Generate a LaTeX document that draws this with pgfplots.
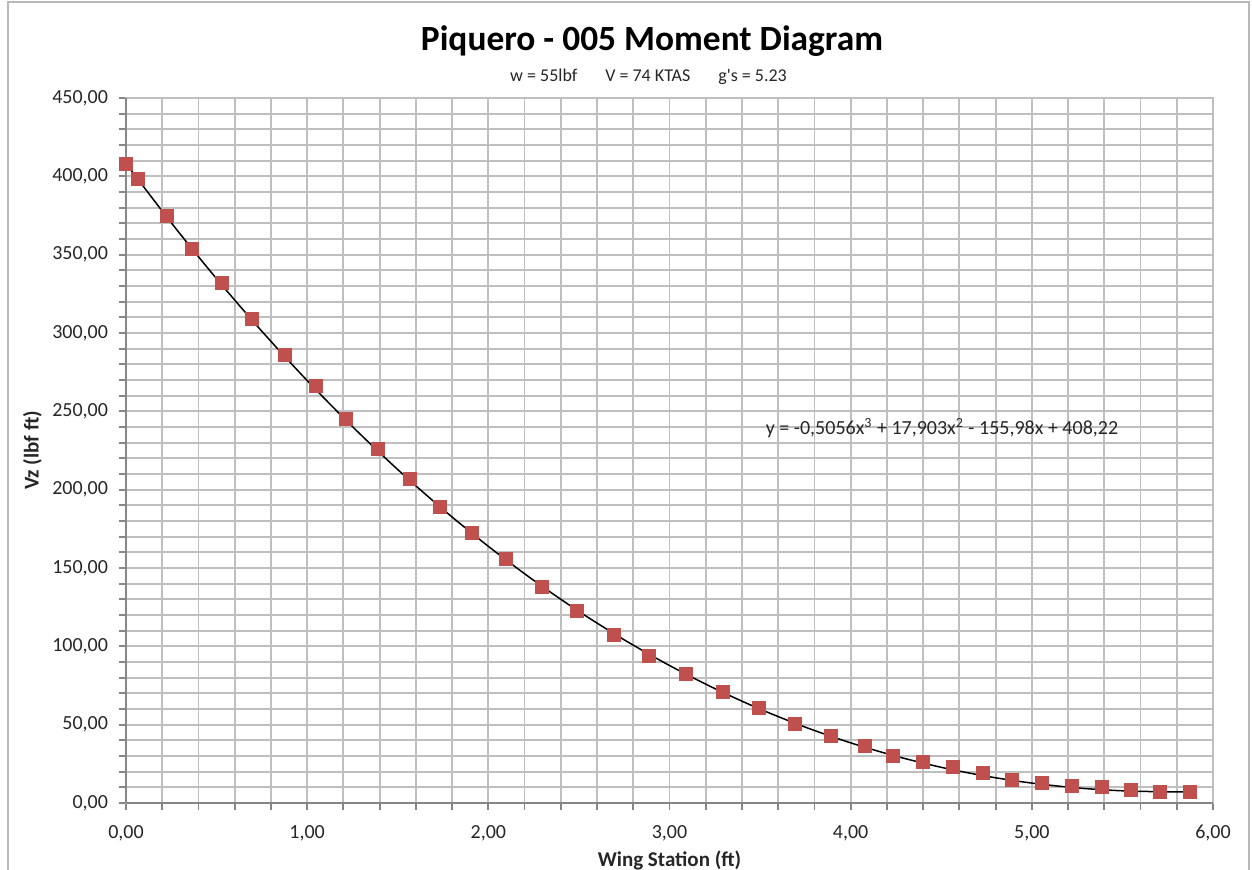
\documentclass[border=0pt]{standalone}
\usepackage{fontspec}
\setmainfont{Carlito}
\usepackage{pgfplots}
\pgfplotsset{compat=1.18}

\definecolor{gridgray}{RGB}{191,191,191}
\definecolor{axisgray}{RGB}{134,134,134}
\definecolor{xlred}{RGB}{192,80,77}

% measured points of the moment curve
\pgfplotstableread{
x      vz
0.000  408.2
0.068  398.1
0.225  374.9
0.366  353.6
0.531  331.7
0.697  308.9
0.877  286.0
1.049  266.2
1.214  245.1
1.392  226.0
1.567  206.8
1.733  189.1
1.908  172.5
2.095  155.7
2.294  138.1
2.491  122.7
2.693  107.2
2.888  94.0
3.089  82.3
3.296  70.7
3.493  60.4
3.692  50.4
3.891  42.8
4.079  36.4
4.231  30.0
4.397  26.4
4.562  22.8
4.728  19.0
4.888  14.7
5.054  12.6
5.219  10.9
5.385  10.0
5.546  8.3
5.706  7.2
5.872  7.2
}\moment

% trendline as drawn
\pgfplotstableread{
x      vz
0.00   408.22
0.25   370.34
0.50   334.64
0.75   301.09
1.00   269.64
1.25   240.23
1.50   212.83
1.75   187.37
2.00   163.83
2.25   142.14
2.50   122.26
2.75   104.15
3.00   87.76
3.25   73.03
3.50   59.92
3.75   48.39
4.00   38.39
4.25   29.87
4.50   22.77
4.75   17.07
5.00   12.70
5.25   9.62
5.50   7.78
5.75   7.14
5.87   7.24
}\trend

\begin{document}
\begin{tikzpicture}
\useasboundingbox (-63pt,-33.5pt) rectangle (563pt,401.5pt);
\draw[gray!55, line width=0.8pt] (-59pt,-40pt) -- (-59pt,400.5pt) -- (561.5pt,400.5pt) -- (561.5pt,-40pt);
\begin{axis}[
  scale only axis,
  width=543.5pt, height=352.5pt,
  xmin=0, xmax=6, ymin=0, ymax=450,
  xtick={0,1,...,6}, ytick={0,50,...,450},
  minor x tick num=4, minor y tick num=4,
  grid=both,
  major grid style={gridgray, line width=0.9pt},
  minor grid style={gridgray, line width=0.9pt},
  axis line style={gridgray, line width=0.9pt},
  tick style={axisgray, line width=0.9pt},
  tick align=outside,
  major tick length=3.5pt, minor tick length=3.5pt,
  xtick pos=lower, ytick pos=left,
  /pgf/number format/.cd, fixed, fixed zerofill, precision=2, use comma, 1000 sep={}, assume math mode=true,
  /pgfplots/.cd,
  ticklabel style={font=\fontsize{10}{12}\selectfont, text=black!85},
  yticklabel style={xshift=-2pt},
  xticklabel style={yshift=-4pt},
  xlabel={Wing Station (ft)},
  ylabel={Vz (lbf ft)},
  label style={font=\fontsize{10.5}{12}\selectfont\bfseries, text=black!85},
  x label style={at={(axis description cs:0.5,-0.081)}, anchor=center},
  y label style={at={(axis description cs:-0.086,0.5)}, anchor=center},
  clip=false,
]
\draw[axisgray, line width=0.9pt] (rel axis cs:0,0) -- (rel axis cs:0,1);
\draw[axisgray, line width=0.9pt] (rel axis cs:0,0) -- (rel axis cs:1,0);

\addplot[only marks, mark=square*, mark size=3.25pt, color=xlred] table[x=x, y=vz] {\moment};
\addplot[black, line width=0.75pt, smooth] table[x=x, y=vz] {\trend};

\node[anchor=base west, inner sep=0pt, font=\fontsize{10}{12}\selectfont, text=black!85]
  at (axis cs:3.53,234.9) {y = -0,5056x\textsuperscript{3} + 17,903x\textsuperscript{2} - 155,98x + 408,22};

\node[anchor=base, inner sep=0pt, font=\fontsize{17.7}{20}\selectfont\bfseries]
  at (axis description cs:0.4839,1.0667) {Piquero - 005 Moment Diagram};
\node[anchor=base, inner sep=0pt, font=\fontsize{9}{11}\selectfont, text=black!85]
  at (axis description cs:0.4807,1.0241) {w = 55lbf\hspace{14pt}V = 74 KTAS\hspace{14pt}g\textquotesingle s = 5.23};
\end{axis}
\end{tikzpicture}
\end{document}
